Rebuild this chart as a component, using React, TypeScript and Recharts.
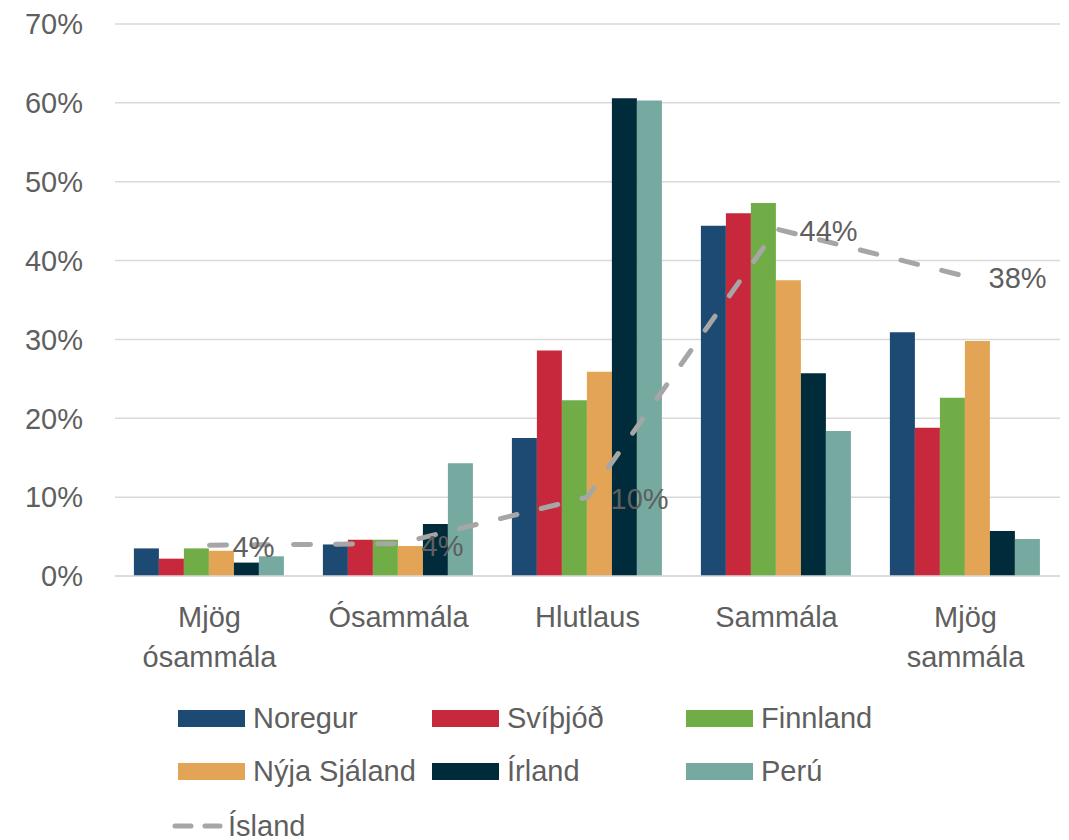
import { ComposedChart, Bar, Line, XAxis, YAxis, CartesianGrid, Legend, LabelList } from "recharts"

const categories = ["Mjög ósammála", "Ósammála", "Hlutlaus", "Sammála", "Mjög sammála"]
const noregur = [3.5, 4.0, 17.5, 44.4, 30.9]
const svithjod = [2.2, 4.6, 28.6, 46.0, 18.8]
const finnland = [3.5, 4.6, 22.3, 47.3, 22.6]
const nyjaSjaland = [3.2, 3.8, 25.9, 37.5, 29.8]
const irland = [1.7, 6.6, 60.6, 25.7, 5.7]
const peru = [2.5, 14.3, 60.3, 18.4, 4.7]
const island = [3.9, 4.1, 10.0, 44.0, 38.0]
const yTicks = [0, 10, 20, 30, 40, 50, 60, 70]
const seriesOrder = ["Noregur", "Svíþjóð", "Finnland", "Nýja Sjáland", "Írland", "Perú", "Ísland"]

const data = categories.map((cat, i) => ({
  cat,
  noregur: noregur[i],
  svithjod: svithjod[i],
  finnland: finnland[i],
  nyjaSjaland: nyjaSjaland[i],
  irland: irland[i],
  peru: peru[i],
  island: island[i],
}))

const FONT = "'Liberation Sans', Arial, sans-serif"
const TEXT = "#5f5f5f"

function CategoryTick(props: any) {
  const { x, y, payload } = props
  const words = String(payload.value).split(" ")
  return (
    <text x={x} y={y + 51} textAnchor="middle" fill={TEXT} fontSize={29} fontFamily={FONT}>
      {words.map((w: string, i: number) => (
        <tspan key={i} x={x} dy={i === 0 ? 0 : 40}>{w}</tspan>
      ))}
    </text>
  )
}

function IslandLabel(props: any) {
  const { x, y, value } = props
  return (
    <text x={x + 23} y={y + 2} dominantBaseline="central" fill={TEXT} fontSize={29} fontFamily={FONT}>
      {Math.round(value)}%
    </text>
  )
}

function ChartLegend(props: any) {
  const items = [...(props.payload || [])].sort(
    (a: any, b: any) => seriesOrder.indexOf(a.value) - seriesOrder.indexOf(b.value)
  )
  return (
    <div style={{ position: "relative", width: 1069, height: 150, fontFamily: FONT, color: TEXT, fontSize: 29 }}>
      {items.map((item: any, i: number) => {
        if (item.type === "line") {
          return (
            <div key={i} style={{ position: "absolute", left: 170, top: 119, height: 34, display: "flex", alignItems: "center" }}>
              <svg width={54} height={10}>
                <line x1={5} y1={5} x2={50} y2={5} stroke={item.color} strokeWidth={5} strokeLinecap="round" strokeDasharray="16 14" />
              </svg>
              <span style={{ marginLeft: 4 }}>{item.value}</span>
            </div>
          )
        }
        const col = i % 3
        const row = Math.floor(i / 3)
        return (
          <div key={i} style={{ position: "absolute", left: 178 + col * 254, top: 11 + row * 53, height: 34, display: "flex", alignItems: "center" }}>
            <div style={{ width: 67, height: 17, background: item.color }} />
            <span style={{ marginLeft: 8, whiteSpace: "nowrap" }}>{item.value}</span>
          </div>
        )
      })}
    </div>
  )
}

export default function App() {
  return (
    <div style={{ position: "absolute", left: 0, top: 0, background: "#fff" }}>
      <ComposedChart width={1069} height={840} data={data} margin={{ top: 24, right: 9, left: 0, bottom: 204 }} barCategoryGap="10%" barGap={0}>
        <CartesianGrid vertical={false} stroke="#D9D9D9" strokeWidth={1.5} />
        <XAxis dataKey="cat" height={60} tickLine={false} tickSize={0} tickMargin={0} axisLine={{ stroke: "#D9D9D9", strokeWidth: 1.5 }} tick={<CategoryTick />} interval={0} />
        <YAxis width={115} domain={[0, 70]} ticks={yTicks} tickFormatter={(v: number) => `${v}%`} tickLine={false} axisLine={false} tickSize={0} tickMargin={32} tick={{ fill: TEXT, fontSize: 29, fontFamily: FONT }} />
        <Legend layout="horizontal" verticalAlign="middle" itemSorter={null as any} wrapperStyle={{ top: 690, left: 0, width: 1069 }} content={<ChartLegend />} />
        <Bar dataKey="noregur" name="Noregur" fill="#1C4A72" isAnimationActive={false} />
        <Bar dataKey="svithjod" name="Svíþjóð" fill="#C8283C" isAnimationActive={false} />
        <Bar dataKey="finnland" name="Finnland" fill="#70AD47" isAnimationActive={false} />
        <Bar dataKey="nyjaSjaland" name="Nýja Sjáland" fill="#E3A455" isAnimationActive={false} />
        <Bar dataKey="irland" name="Írland" fill="#002B3A" isAnimationActive={false} />
        <Bar dataKey="peru" name="Perú" fill="#76A9A0" isAnimationActive={false} />
        <Line dataKey="island" name="Ísland" stroke="#A6A6A6" strokeWidth={5} strokeDasharray="17 25" strokeLinecap="round" dot={false} activeDot={false} legendType="line" isAnimationActive={false}>
          <LabelList dataKey="island" content={<IslandLabel />} />
        </Line>
      </ComposedChart>
    </div>
  )
}
